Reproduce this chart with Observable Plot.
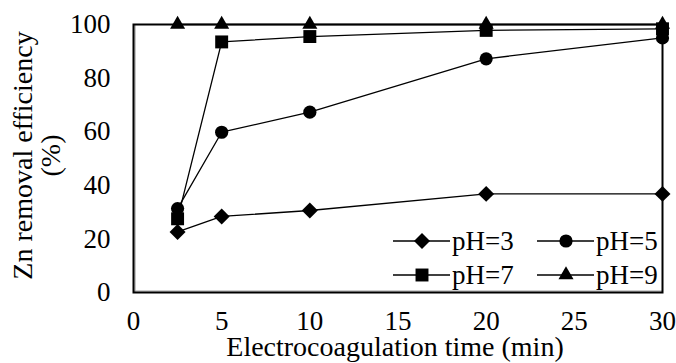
<!DOCTYPE html>
<html>
<head>
<meta charset="utf-8">
<script src="https://cdn.jsdelivr.net/npm/d3@7"></script>
<script src="https://cdn.jsdelivr.net/npm/@observablehq/plot@0.6"></script>
<style>
  html, body { margin: 0; padding: 0; background: #fff; }
  #chart { position: relative; width: 676px; height: 363px; }
</style>
</head>
<body>
<div id="chart"></div>
<script>
// Electrocoagulation time (min)
const times = [2.5, 5, 10, 20, 30];
// Zn removal efficiency (%) per initial pH
const ph3 = [22.6, 28.4, 30.6, 36.8, 36.8];
const ph5 = [31.3, 59.8, 67.3, 87.2, 95];
const ph7 = [27.5, 93.5, 95.5, 97.8, 98.4];
const ph9 = [100, 100, 100, 100, 100];

const seriesLabels = ["pH=3", "pH=5", "pH=7", "pH=9"];
const seriesSymbols = ["diamond2", "circle", "square", "triangle"];
const seriesRadius = [7.2, 6.6, 7.3, 5.6];
const seriesValues = [ph3, ph5, ph7, ph9];

const xTicks = [0, 5, 10, 15, 20, 25, 30];
const yTicks = [0, 20, 40, 60, 80, 100];

const xTitle = "Electrocoagulation time (min)";
const yTitle1 = "Zn removal efficiency";
const yTitle2 = "(%)";

const font = "Liberation Serif";

const series = seriesValues.map((vals, i) =>
  times.map((t, j) => ({t, v: vals[j], label: seriesLabels[i]}))
);

const marks = [
  Plot.ruleX([0], {dx: 1.5, stroke: "#a0a0a0", strokeWidth: 1.2}),
  Plot.ruleY([0], {dy: -1.5, stroke: "#a0a0a0", strokeWidth: 1.2}),
  Plot.frame({stroke: "#000", strokeWidth: 2})
];
series.forEach((data, i) => {
  marks.push(Plot.line(data, {x: "t", y: "v", stroke: "#000", strokeWidth: 1.3}));
  marks.push(Plot.dot(data, {x: "t", y: "v", symbol: () => seriesSymbols[i], r: seriesRadius[i], fill: "#000", stroke: "none"}));
});
marks.push(
  Plot.axisX(xTicks, {tickSize: 0, tickPadding: 18, fontSize: 27, fontFamily: font, label: null}),
  Plot.axisY(yTicks, {tickSize: 0, tickPadding: 23, fontSize: 27, fontFamily: font, label: null}),
  Plot.text([xTitle], {frameAnchor: "bottom", textAnchor: "middle", lineAnchor: "middle", dy: 55, dx: -3, fontSize: 28, fontFamily: font}),
  Plot.text([yTitle1], {frameAnchor: "left", textAnchor: "middle", lineAnchor: "middle", rotate: -90, dx: -110, dy: -3, fontSize: 28, fontFamily: font}),
  Plot.text([yTitle2], {frameAnchor: "left", textAnchor: "middle", lineAnchor: "middle", rotate: -90, dx: -82, dy: -3, fontSize: 28, fontFamily: font})
);

const chart = Plot.plot({
  width: 676,
  height: 363,
  marginLeft: 133,
  marginRight: 14,
  marginTop: 24,
  marginBottom: 71,
  x: {domain: [0, 30]},
  y: {domain: [0, 100]},
  style: {background: "#fff", overflow: "visible"},
  marks
});
chart.setAttribute("font-family", font);
document.getElementById("chart").appendChild(chart);

// Legend inside the lower-right corner of the frame
const symbolTypes = {diamond2: d3.symbolDiamond2, circle: d3.symbolCircle, square: d3.symbolSquare, triangle: d3.symbolTriangle};
const legend = d3.select(chart).append("g")
  .attr("font-family", font)
  .attr("font-size", 27)
  .attr("text-anchor", "start");
const colX = [393, 537];
const rowY = [241, 275];
seriesLabels.forEach((label, i) => {
  const x0 = colX[i % 2], y0 = rowY[Math.floor(i / 2)];
  const g = legend.append("g").attr("transform", `translate(${x0},${y0})`);
  g.append("line").attr("x1", 0).attr("x2", 57).attr("y1", 0).attr("y2", 0).attr("stroke", "#000").attr("stroke-width", 1.3);
  g.append("path")
    .attr("transform", "translate(29,0)")
    .attr("d", d3.symbol(symbolTypes[seriesSymbols[i]], Math.PI * seriesRadius[i] ** 2)())
    .attr("fill", "#000");
  g.append("text").attr("x", 59).attr("y", 0).attr("dy", "0.34em").attr("fill", "#000").text(label);
});
</script>
</body>
</html>
